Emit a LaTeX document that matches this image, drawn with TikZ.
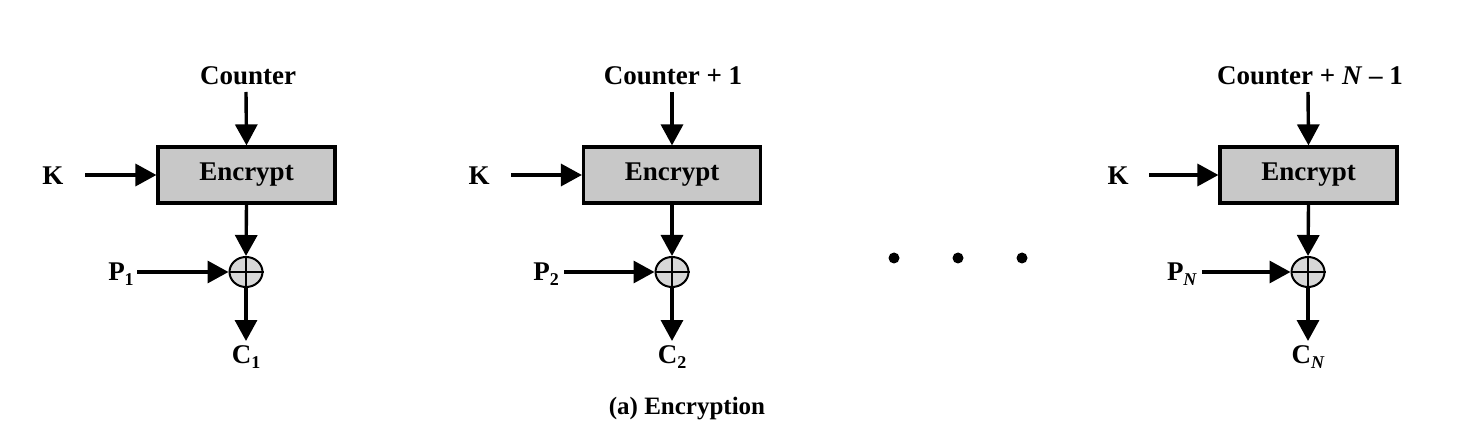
\documentclass[tikz,border=0pt]{standalone}
\usepackage{fontspec}
\setmainfont{Liberation Serif}
\usetikzlibrary{arrows.meta,shapes.geometric}
\newcommand{\mysub}[1]{\raisebox{-0.35ex}{\fontsize{18}{18}\selectfont #1}}
\tikzset{
  lbl/.style={font=\fontsize{27}{29}\selectfont\bfseries, inner sep=0pt},
  encbox/.style={draw, line width=3.2pt, fill={rgb,255:red,200;green,200;blue,200}, minimum width=177pt, minimum height=56pt, font=\fontsize{27}{29}\selectfont\bfseries, inner sep=0pt},
  xorn/.style={ellipse, draw, line width=2pt, fill={rgb,255:red,215;green,215;blue,215}, minimum width=33pt, minimum height=30pt, inner sep=0pt},
  arr/.style={line width=3.4pt, -{Triangle[length=21pt,width=22pt]}},
  crossl/.style={line width=1.8pt},
  dotn/.style={circle, fill, inner sep=0pt, minimum size=11pt}
}
\begin{document}
\begin{tikzpicture}[x=1pt,y=-1pt]
\useasboundingbox (0,0) rectangle (1458,446);
% block 1
\node[lbl] (ctr1) at (248,76) {Counter};
\node[encbox] (e1) at (246.5,175) {Encrypt};
\node[lbl] (k1) at (53,176) {K};
\node[xorn] (x1) at (246,272) {};
\node[lbl] (p1) at (121,274) {P\mysub{1}};
\node[lbl] (c1) at (246,357) {C\mysub{1}};
\coordinate (ct1) at (246,92);
\coordinate (ks1) at (85,175);
\coordinate (ps1) at (137,272);
\coordinate (co1) at (246,341);
% block 2
\node[lbl] (ctr2) at (673,76) {Counter + 1};
\node[encbox] (e2) at (672,175) {Encrypt};
\node[lbl] (k2) at (479,176) {K};
\node[xorn] (x2) at (672,272) {};
\node[lbl] (p2) at (546,274) {P\mysub{2}};
\node[lbl] (c2) at (672,357) {C\mysub{2}};
\coordinate (ct2) at (672,92);
\coordinate (ks2) at (511,175);
\coordinate (ps2) at (564,272);
\coordinate (co2) at (672,341);
% block 3
\node[lbl] (ctr3) at (1310,76) {Counter + \textit{N} – 1};
\node[encbox] (e3) at (1308.5,175) {Encrypt};
\node[lbl] (k3) at (1118,176) {K};
\node[xorn] (x3) at (1308,272) {};
\node[lbl] (p3) at (1182,274) {P\mysub{\textit{N}}};
\node[lbl] (c3) at (1308,357) {C\mysub{\textit{N}}};
\coordinate (ct3) at (1308,92);
\coordinate (ks3) at (1149,175);
\coordinate (ps3) at (1202,272);
\coordinate (co3) at (1308,341);
% connectors
\foreach \i in {1,2,3}{
  \draw[crossl] (x\i.north) -- (x\i.south);
  \draw[crossl] (x\i.west) -- (x\i.east);
  \draw[arr] (ct\i) -- (e\i.north);
  \draw[arr] (ks\i) -- (e\i.west);
  \draw[arr] (e\i.south) -- (x\i.north);
  \draw[arr] (ps\i) -- (x\i.west);
  \draw[arr] (x\i.south) -- (co\i);
}
% dots
\node[dotn] (d1) at (894,258) {};
\node[dotn] (d2) at (958,258) {};
\node[dotn] (d3) at (1022,258) {};
% caption
\node[lbl, font=\fontsize{25}{27}\selectfont\bfseries] (cap) at (687,409) {(a) Encryption};
\end{tikzpicture}
\end{document}
